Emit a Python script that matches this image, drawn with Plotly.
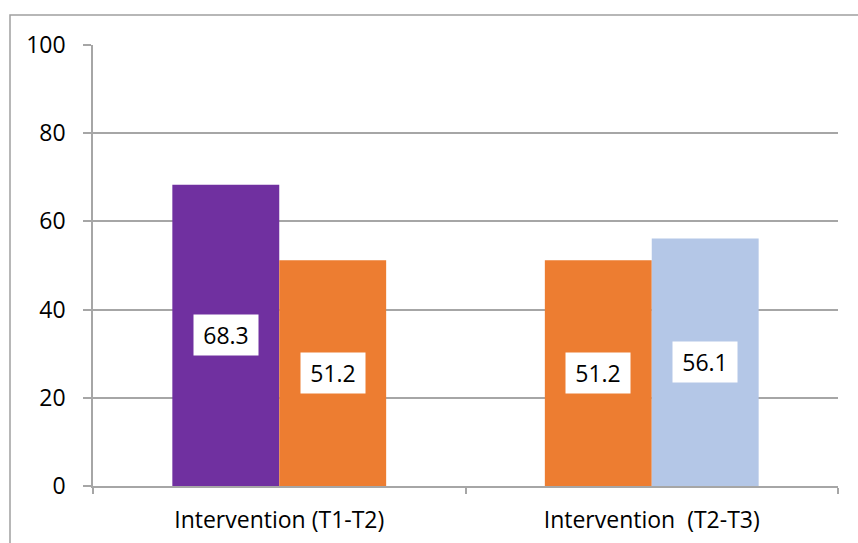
import plotly.graph_objects as go

categories = ["Intervention (T1-T2)", "Intervention  (T2-T3)"]
series_a_values = [68.3, 51.2]
series_b_values = [51.2, 56.1]
series_a_colors = ["#7030A0", "#ED7D31"]
series_b_colors = ["#ED7D31", "#B4C7E7"]
y_ticks = [0, 20, 40, 60, 80, 100]

FONT = "Open Sans, Carlito, Calibri, sans-serif"
GRID = "#A6A6A6"

fig = go.Figure()
fig.add_trace(go.Bar(x=categories, y=series_a_values, marker=dict(color=series_a_colors, line_width=0),
                     name="a", showlegend=False))
fig.add_trace(go.Bar(x=categories, y=series_b_values, marker=dict(color=series_b_colors, line_width=0),
                     name="b", showlegend=False))

# value labels in white boxes, centered in each bar
for i, cat in enumerate(categories):
    for vals, off in ((series_a_values, -53.5), (series_b_values, 53.5)):
        v = vals[i]
        fig.add_annotation(x=cat, y=v / 2, xref="x", yref="y", text=f"{v:.1f}", showarrow=False,
                           xshift=off, bgcolor="white", borderpad=0, width=64, height=40,
                           align="center", valign="middle",
                           font=dict(family=FONT, size=23, color="black"))

W, H = 858, 543
ml, mr, mt, mb = 93, 20, 45, 57
pw, ph = W - ml - mr, H - mt - mb
# outer chart frame
fig.add_shape(type="rect", xref="paper", yref="paper",
              x0=(10 - ml) / pw, x1=(870 - ml) / pw, y0=(mt + ph - 560) / ph, y1=(mt + ph - 15) / ph,
              line=dict(color="#A0A0A0", width=1.5), fillcolor="rgba(0,0,0,0)", layer="below")

fig.update_layout(
    width=W, height=H, margin=dict(l=ml, r=mr, t=mt, b=mb, autoexpand=False),
    paper_bgcolor="white", plot_bgcolor="white",
    barmode="group", bargap=0.426, bargroupgap=0,
    font=dict(family=FONT, color="black"),
    xaxis=dict(showline=True, linecolor=GRID, linewidth=1.5, ticks="outside", ticklen=6,
               tickcolor=GRID, tickwidth=1.5, tickson="boundaries", showgrid=False,
               tickfont=dict(size=23, family=FONT), ticklabelstandoff=13, automargin=False),
    yaxis=dict(range=[0, 100], tickvals=y_ticks, showline=True, linecolor=GRID, linewidth=1.5,
               ticks="outside", ticklen=8, tickcolor=GRID, tickwidth=1.5,
               showgrid=True, gridcolor=GRID, gridwidth=1.5, zeroline=False,
               tickfont=dict(size=23, family=FONT), ticklabelstandoff=13, automargin=False),
)

fig.write_html("out.html", config={"displayModeBar": False},
               post_script="document.body.style.margin='0';document.body.style.overflow='hidden';")
